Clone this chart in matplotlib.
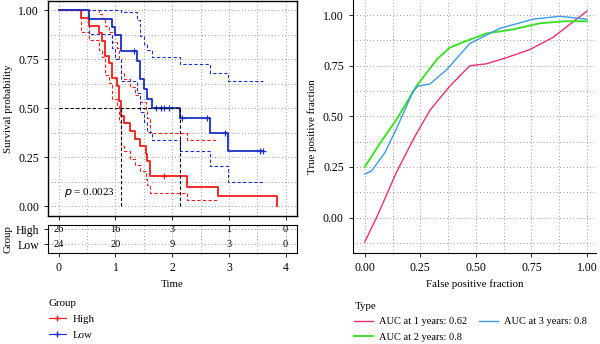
import matplotlib
matplotlib.use("Agg")
import matplotlib.pyplot as plt
from matplotlib.lines import Line2D
from matplotlib.ticker import MultipleLocator

plt.rcParams["font.family"] = ["Liberation Serif", "DejaVu Serif"]
plt.rcParams["font.size"] = 7.5

# Kaplan-Meier: High group
high_t = [0, 0.39, 0.53, 0.71, 0.77, 0.82, 0.88, 0.94, 1.03, 1.06, 1.09, 1.15,
          1.26, 1.35, 1.44, 1.53, 1.56, 1.61, 2.26, 2.81, 3.84]
high_s = [1.0, 0.962, 0.923, 0.885, 0.846, 0.769, 0.731, 0.654, 0.615, 0.538,
          0.462, 0.423, 0.385, 0.346, 0.308, 0.269, 0.231, 0.154, 0.10, 0.05, 0.0]
high_up = [1.0, 1.0, 1.0, 0.98, 0.96, 0.92, 0.89, 0.84, 0.81, 0.75, 0.68, 0.65,
           0.61, 0.57, 0.53, 0.49, 0.45, 0.375, 0.34, 0.34]
high_lo = [1.0, 0.89, 0.85, 0.80, 0.76, 0.67, 0.63, 0.55, 0.51, 0.43, 0.31, 0.28,
           0.24, 0.21, 0.18, 0.14, 0.11, 0.068, 0.031, 0.031]
high_cens_t = [1.85]
high_cens_s = [0.154]

# Kaplan-Meier: Low group
low_t = [0, 0.53, 0.94, 1.0, 1.09, 1.38, 1.44, 1.50, 1.56, 1.64, 2.14, 2.66, 2.98, 3.6]
low_s = [1.0, 0.958, 0.917, 0.875, 0.792, 0.74, 0.65, 0.60, 0.55, 0.50, 0.45,
         0.375, 0.28, 0.28]
low_up = [1.0, 1.0, 1.0, 1.0, 0.99, 0.95, 0.87, 0.83, 0.80, 0.76, 0.725, 0.68,
          0.638, 0.638]
low_lo = [1.0, 0.88, 0.81, 0.75, 0.64, 0.58, 0.48, 0.43, 0.38, 0.337, 0.28, 0.205,
          0.124, 0.124]
low_cens_t = [1.32, 1.72, 1.80, 1.86, 1.95, 2.17, 2.62, 2.93, 3.54, 3.6]
low_cens_s = [0.792, 0.50, 0.50, 0.50, 0.50, 0.45, 0.45, 0.375, 0.28, 0.28]

median_high = 1.1
median_low = 2.14

risk_times = [0, 1, 2, 3, 4]
risk_high = [26, 16, 3, 1, 0]
risk_low = [24, 20, 9, 3, 0]

# time-dependent ROC curves
roc1_x = [0.0, 0.053, 0.143, 0.22, 0.293, 0.383, 0.473, 0.548, 0.638, 0.743, 0.847, 1.0]
roc1_y = [-0.12, 0.0, 0.225, 0.39, 0.53, 0.65, 0.75, 0.76, 0.79, 0.83, 0.89, 1.02]
roc2_x = [0.0, 0.07, 0.143, 0.233, 0.323, 0.383, 0.45, 0.548, 0.668, 0.788, 0.9, 1.0]
roc2_y = [0.25, 0.37, 0.485, 0.65, 0.78, 0.84, 0.87, 0.91, 0.93, 0.96, 0.97, 0.97]
roc3_x = [0.0, 0.03, 0.09, 0.143, 0.218, 0.24, 0.293, 0.368, 0.473, 0.608, 0.758, 0.878, 1.0]
roc3_y = [0.215, 0.23, 0.32, 0.44, 0.625, 0.65, 0.66, 0.73, 0.86, 0.935, 0.98, 0.995, 0.98]
roc_labels = ["AUC at 1 years: 0.62", "AUC at 2 years: 0.8", "AUC at 3 years: 0.8"]

RED = "#EE1C1C"
BLUE = "#1A2FC4"
GRID = dict(linestyle=(0, (1, 3)), color="#777777", linewidth=0.6)
TICK_FS = 8.5


def dotted_grid(ax):
    ax.grid(True, which="both", **GRID)
    ax.set_axisbelow(True)


def step_line(ax, t, s, **kw):
    ax.step(t[:len(s)], s, where="post", **kw)


def main():
    fig = plt.figure(figsize=(6, 3.44), dpi=100)

    # KM panel
    ax = fig.add_axes([0.08, 0.372, 0.415, 0.626])
    dotted_grid(ax)
    step_line(ax, high_t, high_up, color=RED, lw=0.8, ls=(0, (3, 2)))
    step_line(ax, high_t, high_lo, color=RED, lw=0.8, ls=(0, (3, 2)))
    step_line(ax, low_t, low_up, color=BLUE, lw=0.8, ls=(0, (3, 2)))
    step_line(ax, low_t, low_lo, color=BLUE, lw=0.8, ls=(0, (3, 2)))
    step_line(ax, high_t, high_s, color=RED, lw=1.3)
    step_line(ax, low_t, low_s, color=BLUE, lw=1.3)
    ax.plot(high_cens_t, high_cens_s, "+", color=RED, ms=4, mew=0.9)
    ax.plot(low_cens_t, low_cens_s, "+", color=BLUE, ms=4, mew=0.9)
    ax.plot([0, median_low], [0.5, 0.5], color="black", lw=0.8, ls=(0, (3, 2)))
    ax.plot([median_high, median_high], [0, 0.5], color="black", lw=0.8, ls=(0, (3, 2)))
    ax.plot([median_low, median_low], [0, 0.5], color="black", lw=0.8, ls=(0, (3, 2)))
    ax.text(0.1, 0.07, r"$p$ = 0.0023", fontsize=8, va="center")
    ax.set_xlim(-0.19, 4.2)
    ax.set_ylim(-0.05, 1.05)
    ax.set_xticks(risk_times)
    ax.set_xticklabels([])
    ax.set_yticks([0, 0.25, 0.5, 0.75, 1.0])
    ax.set_yticklabels(["0.00", "0.25", "0.50", "0.75", "1.00"], fontsize=TICK_FS)
    ax.xaxis.set_minor_locator(MultipleLocator(0.5))
    ax.yaxis.set_minor_locator(MultipleLocator(0.125))
    ax.tick_params(which="minor", length=0)
    ax.tick_params(which="major", length=3, width=0.6)
    ax.set_ylabel("Survival probability", fontsize=7.8)
    for sp in ax.spines.values():
        sp.set_linewidth(1.0)

    # risk table
    rt = fig.add_axes([0.08, 0.2645, 0.415, 0.0815])
    for x, n in zip(risk_times, risk_high):
        rt.text(x, 2, str(n), ha="center", va="center", fontsize=7.5)
    for x, n in zip(risk_times, risk_low):
        rt.text(x, 1, str(n), ha="center", va="center", fontsize=7.5)
    rt.set_xlim(-0.19, 4.2)
    rt.set_ylim(0.38, 2.31)
    rt.set_xticks(risk_times)
    rt.set_xticklabels([str(t) for t in risk_times], fontsize=TICK_FS)
    rt.set_yticks([2, 1])
    rt.set_yticklabels(["High", "Low"], fontsize=8.5)
    rt.xaxis.set_minor_locator(MultipleLocator(0.5))
    rt.grid(True, which="both", axis="x", **GRID)
    rt.grid(True, which="major", axis="y", **GRID)
    rt.tick_params(which="minor", length=0)
    rt.tick_params(which="major", length=3, width=0.6)
    rt.set_ylabel("Group", labelpad=2, fontsize=7.8)
    rt.set_xlabel("Time", labelpad=4, fontsize=7.8)

    fig.legend(
        handles=[Line2D([], [], color=RED, marker="+", lw=0.8, ms=4),
                 Line2D([], [], color=BLUE, marker="+", lw=0.8, ms=4)],
        labels=["High", "Low"], title="Group", loc="upper left",
        bbox_to_anchor=(0.065, 0.16), frameon=False, fontsize=7.8,
        title_fontsize=7.8, handlelength=1.6, handletextpad=0.6,
        labelspacing=0.6,
    )._legend_box.align = "left"

    # ROC panel
    ar = fig.add_axes([0.588, 0.2645, 0.405, 0.7355])
    dotted_grid(ar)
    ar.plot(roc1_x, roc1_y, color="#E8306E", lw=1.0, label=roc_labels[0])
    ar.plot(roc2_x, roc2_y, color="#3FE02A", lw=1.4, label=roc_labels[1])
    ar.plot(roc3_x, roc3_y, color="#3A9BE0", lw=1.0, label=roc_labels[2])
    ar.set_xlim(-0.054, 1.04)
    ar.set_ylim(-0.175, 1.075)
    ticks = [0, 0.25, 0.5, 0.75, 1.0]
    ar.set_xticks(ticks)
    ar.set_xticklabels(["0.00", "0.25", "0.50", "0.75", "1.00"], fontsize=TICK_FS)
    ar.set_yticks(ticks)
    ar.set_yticklabels(["0.00", "0.25", "0.50", "0.75", "1.00"], fontsize=TICK_FS)
    ar.xaxis.set_minor_locator(MultipleLocator(0.125))
    ar.yaxis.set_minor_locator(MultipleLocator(0.125))
    ar.tick_params(which="minor", length=0)
    ar.tick_params(which="major", length=3, width=0.6)
    ar.spines["top"].set_visible(False)
    ar.spines["right"].set_visible(False)
    ar.set_xlabel("False positive fraction", labelpad=4, fontsize=7.8)
    ar.set_ylabel("True positive fraction", fontsize=7.8)

    h, l = ar.get_legend_handles_labels()
    fig.legend(
        h, l, title="Type", loc="upper left", ncol=2,
        bbox_to_anchor=(0.575, 0.15), frameon=False, fontsize=7.5,
        title_fontsize=7.8, handlelength=1.8, handletextpad=0.6,
        labelspacing=0.6, columnspacing=1.1,
    )._legend_box.align = "left"

    fig.savefig("out.png", dpi=100)


if __name__ == "__main__":
    main()
